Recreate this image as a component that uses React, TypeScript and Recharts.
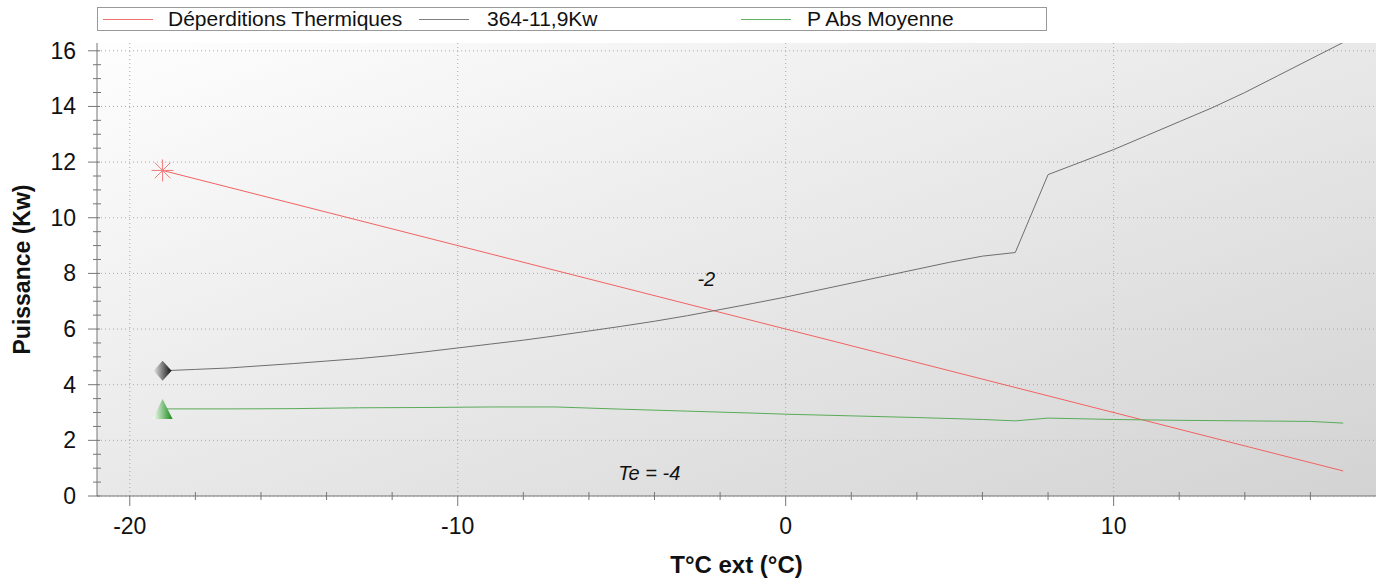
import { LineChart, Line, XAxis, YAxis, CartesianGrid, ReferenceDot } from 'recharts';

const FONT = '"Liberation Sans", Arial, Helvetica, sans-serif';

// Déperditions thermiques (straight line between the two end points)
const deperditionsTemps = [-19, 17];
const deperditionsValues = [11.7, 0.9];

// PAC 364-11,9Kw
const pacTemps = [-19, -18, -17, -16, -15, -14, -13, -12, -11, -10, -9, -8, -7, -6, -5, -4, -3, -2, -1, 0, 1, 2, 3, 4, 5, 6, 7, 8, 9, 10, 11, 12, 13, 14, 15, 16, 17];
const pacValues = [4.5, 4.55, 4.6, 4.68, 4.76, 4.85, 4.94, 5.05, 5.18, 5.32, 5.46, 5.6, 5.76, 5.93, 6.1, 6.28, 6.48, 6.7, 6.92, 7.15, 7.4, 7.65, 7.9, 8.15, 8.4, 8.62, 8.75, 11.55, 12.0, 12.45, 12.95, 13.45, 13.95, 14.5, 15.1, 15.7, 16.3];

// P Abs Moyenne
const absTemps = [-19, -17, -15, -13, -11, -9, -7, -5, -3, -1, 0, 2, 4, 6, 7, 8, 10, 12, 14, 16, 17];
const absValues = [3.13, 3.13, 3.14, 3.17, 3.18, 3.2, 3.2, 3.12, 3.05, 2.98, 2.94, 2.88, 2.82, 2.75, 2.7, 2.8, 2.75, 2.72, 2.7, 2.68, 2.62];

const xTicks = [-20, -18, -16, -14, -12, -10, -8, -6, -4, -2, 0, 2, 4, 6, 8, 10, 12, 14, 16];
const xLabels = [-20, -10, 0, 10];
const yTicks = [0, 0.5, 1, 1.5, 2, 2.5, 3, 3.5, 4, 4.5, 5, 5.5, 6, 6.5, 7, 7.5, 8, 8.5, 9, 9.5, 10, 10.5, 11, 11.5, 12, 12.5, 13, 13.5, 14, 14.5, 15, 15.5, 16];
const yLabels = [0, 2, 4, 6, 8, 10, 12, 14, 16];

const xDomain = [-21, 18];
const yDomain = [0, 16.28];

const deperditions = deperditionsTemps.map((t, i) => ({ t, v: deperditionsValues[i] }));
const pac = pacTemps.map((t, i) => ({ t, v: pacValues[i] }));
const abs = absTemps.map((t, i) => ({ t, v: absValues[i] }));

const AXIS = '#777';

function BottomTick({ x, y, payload }: any) {
  const major = xLabels.includes(payload.value);
  return (
    <g>
      <line x1={x} x2={x} y1={major ? y : y - 4} y2={y + (major ? 10 : 4)} stroke={AXIS} />
      {major && (
        <text x={x} y={y + 30} textAnchor="middle" dominantBaseline="central" fontSize={23} fontFamily={FONT} fill="#111">
          {payload.value}
        </text>
      )}
    </g>
  );
}

function TopTick({ x, y, payload }: any) {
  const major = xLabels.includes(payload.value);
  return <line x1={x} x2={x} y1={y} y2={y + (major ? 9 : 5)} stroke={AXIS} />;
}

function LeftTick({ x, y, payload }: any) {
  const major = yLabels.includes(payload.value);
  return (
    <g>
      <line x1={major ? x - 9 : x - 4} x2={major ? x + 3 : x + 4} y1={y} y2={y} stroke={AXIS} />
      {major && (
        <text x={x - 21} y={y} textAnchor="end" dominantBaseline="central" fontSize={23} fontFamily={FONT} fill="#111">
          {payload.value}
        </text>
      )}
    </g>
  );
}

function RightTick({ x, y, payload }: any) {
  const major = yLabels.includes(payload.value);
  return <line x1={x - (major ? 9 : 5)} x2={x} y1={y} y2={y} stroke={AXIS} />;
}

const asteriskDot = (p: any) => {
  if (p.index !== 0) return <g key={`a${p.index}`} />;
  const r = 11;
  const d = 7.8;
  return (
    <g key="ast" stroke="#f27a7a" strokeWidth={1}>
      <line x1={p.cx - r} x2={p.cx + r} y1={p.cy} y2={p.cy} />
      <line x1={p.cx} x2={p.cx} y1={p.cy - r} y2={p.cy + r} />
      <line x1={p.cx - d} x2={p.cx + d} y1={p.cy - d} y2={p.cy + d} />
      <line x1={p.cx - d} x2={p.cx + d} y1={p.cy + d} y2={p.cy - d} />
    </g>
  );
};

const diamondDot = (p: any) => {
  if (p.index !== 0) return <g key={`d${p.index}`} />;
  const w = 9;
  const h = 10;
  return (
    <path
      key="dia"
      d={`M${p.cx - w},${p.cy} L${p.cx},${p.cy - h} L${p.cx + w},${p.cy} L${p.cx},${p.cy + h} Z`}
      fill="url(#diamondGrad)"
      stroke="none"
    />
  );
};

const triangleDot = (p: any) => {
  if (p.index !== 0) return <g key={`t${p.index}`} />;
  const w = 10;
  const h = 10;
  return (
    <path
      key="tri"
      d={`M${p.cx},${p.cy - h} L${p.cx + w},${p.cy + h} L${p.cx - w},${p.cy + h} Z`}
      fill="url(#triangleGrad)"
      stroke="none"
    />
  );
};

const legendItems = [
  { name: 'Déperditions Thermiques', color: '#f07070', lineLeft: 5, textLeft: 70 },
  { name: '364-11,9Kw', color: '#808080', lineLeft: 321, textLeft: 389 },
  { name: 'P Abs Moyenne', color: '#60b060', lineLeft: 643, textLeft: 709 },
];

export default function App() {
  return (
    <div style={{ position: 'absolute', left: 0, top: 0, width: 1384, height: 582, background: '#fff' }}>
      <div
        style={{
          position: 'absolute',
          left: 97,
          top: 7,
          width: 948,
          height: 22,
          border: '1px solid #999',
          background: '#fff',
          fontFamily: FONT,
          fontSize: 21,
          color: '#111',
          zIndex: 2,
        }}
      >
        {legendItems.map((it) => (
          <div
            key={`l-${it.name}`}
            style={{
              position: 'absolute',
              left: it.lineLeft,
              top: 11,
              width: 50,
              height: 0,
              borderTop: `1px solid ${it.color}`,
            }}
          />
        ))}
        {legendItems.map((it) => (
          <div
            key={it.name}
            style={{ position: 'absolute', left: it.textLeft, top: 0, lineHeight: '22px', whiteSpace: 'nowrap' }}
          >
            {it.name}
          </div>
        ))}
      </div>
      <LineChart width={1384} height={582} margin={{ top: 43, right: 8, bottom: 4, left: 17 }}>
        <defs>
          <linearGradient id="plotBg" x1="0" y1="0" x2="1" y2="1">
            <stop offset="0%" stopColor="#fefefe" />
            <stop offset="100%" stopColor="#d3d3d3" />
          </linearGradient>
          <linearGradient id="diamondGrad" x1="0" y1="0" x2="1" y2="0">
            <stop offset="0%" stopColor="#e6e6e6" />
            <stop offset="100%" stopColor="#111" />
          </linearGradient>
          <linearGradient id="triangleGrad" x1="0" y1="0" x2="1" y2="0">
            <stop offset="0%" stopColor="#ffffff" />
            <stop offset="100%" stopColor="#168a16" />
          </linearGradient>
        </defs>
        <CartesianGrid
          fill="url(#plotBg)"
          fillOpacity={1}
          stroke="#a8a8a8"
          strokeDasharray="1 3"
          horizontalValues={yLabels}
          verticalValues={xLabels}
        />
        <XAxis
          xAxisId={0}
          type="number"
          dataKey="t"
          domain={xDomain}
          allowDataOverflow
          ticks={xTicks}
          interval={0}
          height={82}
          tickSize={0}
          tickMargin={0}
          tickLine={false}
          axisLine={{ stroke: AXIS }}
          tick={<BottomTick />}
          label={{
            value: 'T°C ext (°C)',
            position: 'insideBottom',
            offset: 5,
            style: { fontFamily: FONT, fontSize: 24, fontWeight: 'bold', fill: '#111' },
          }}
        />
        <XAxis
          xAxisId="top"
          orientation="top"
          type="number"
          dataKey="t"
          domain={xDomain}
          allowDataOverflow
          ticks={xTicks}
          interval={0}
          height={0}
          tickSize={0}
          tickMargin={0}
          tickLine={false}
          axisLine={{ stroke: AXIS }}
          tick={<TopTick />}
        />
        <YAxis
          yAxisId={0}
          type="number"
          domain={yDomain}
          allowDataOverflow
          ticks={yTicks}
          interval={0}
          width={80}
          tickSize={0}
          tickMargin={0}
          tickLine={false}
          axisLine={{ stroke: AXIS }}
          tick={<LeftTick />}
          label={{
            value: 'Puissance (Kw)',
            angle: -90,
            position: 'insideLeft',
            offset: 5,
            style: { textAnchor: 'middle', fontFamily: FONT, fontSize: 23, fontWeight: 'bold', fill: '#111' },
          }}
        />
        <YAxis
          yAxisId="right"
          orientation="right"
          type="number"
          domain={yDomain}
          allowDataOverflow
          ticks={yTicks}
          interval={0}
          width={0}
          tickSize={0}
          tickMargin={0}
          tickLine={false}
          axisLine={{ stroke: AXIS }}
          tick={<RightTick />}
        />
        <Line
          data={deperditions}
          dataKey="v"
          name="Déperditions Thermiques"
          type="linear"
          stroke="#f26262"
          strokeWidth={1}
          dot={asteriskDot}
          activeDot={false}
          isAnimationActive={false}
        />
        <Line
          data={pac}
          dataKey="v"
          name="364-11,9Kw"
          type="linear"
          stroke="#6e6e6e"
          strokeWidth={1}
          dot={diamondDot}
          activeDot={false}
          isAnimationActive={false}
        />
        <Line
          data={abs}
          dataKey="v"
          name="P Abs Moyenne"
          type="linear"
          stroke="#5aab5a"
          strokeWidth={1}
          dot={triangleDot}
          activeDot={false}
          isAnimationActive={false}
        />
        <ReferenceDot
          x={-2.42}
          y={7.8}
          r={0}
          shape={(p: any) => (
            <text x={p.cx} y={p.cy} textAnchor="middle" dominantBaseline="central" fontSize={20} fontStyle="italic" fontFamily={FONT} fill="#111">
              -2
            </text>
          )}
        />
        <ReferenceDot
          x={-4.16}
          y={0.83}
          r={0}
          shape={(p: any) => (
            <text x={p.cx} y={p.cy} textAnchor="middle" dominantBaseline="central" fontSize={20} fontStyle="italic" fontFamily={FONT} fill="#111">
              Te = -4
            </text>
          )}
        />
      </LineChart>
    </div>
  );
}
